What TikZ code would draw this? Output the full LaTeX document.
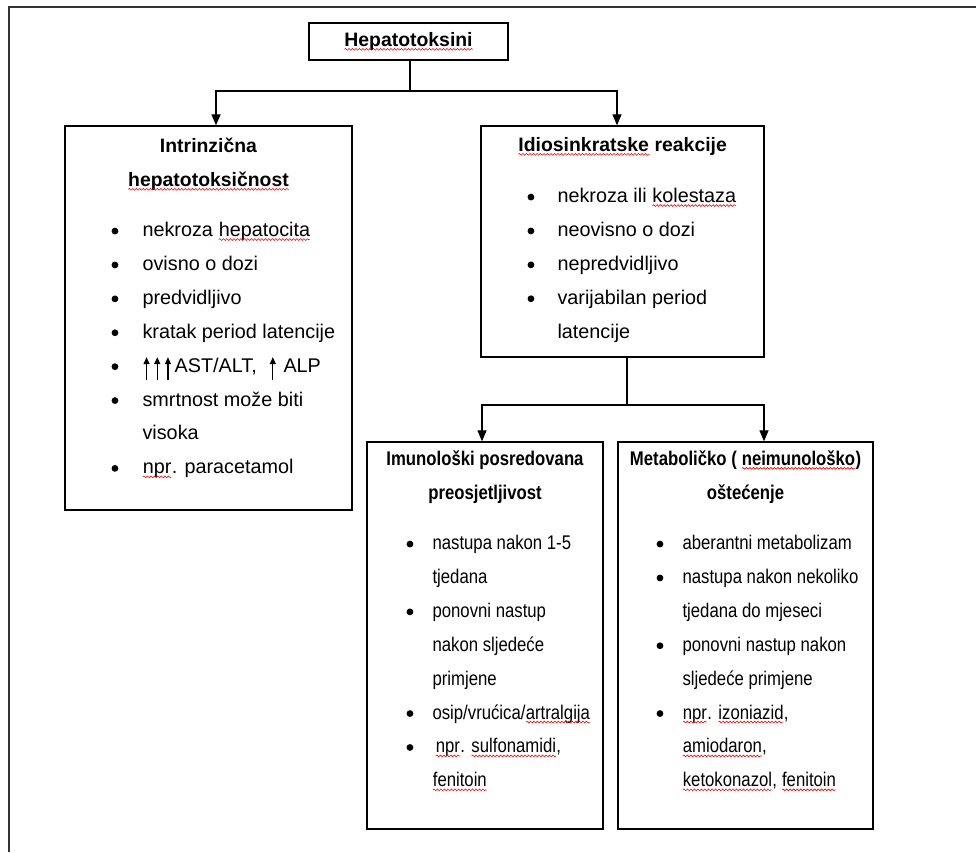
\documentclass[tikz,border=0pt]{standalone}
\usepackage{fontspec}
\setmainfont{Liberation Sans}
\newfontfamily\narrowfont[FakeStretch=0.845]{Liberation Sans}
\usetikzlibrary{arrows.meta,positioning,decorations.pathmorphing}

\newlength{\bulw}
\newcommand{\sq}[1]{\tikz[baseline=(sqw.base)]{\node[inner sep=0pt,outer sep=0pt,anchor=base] (sqw) at (0,0) {#1};
    \draw[red,line width=0.6pt,decorate,decoration={snake,amplitude=0.9pt,segment length=3.5pt}]
    ([yshift=-3pt]sqw.base west) -- ([yshift=-3pt]sqw.base east);}}
\newcommand{\bul}{\makebox[\bulw][l]{\tikz[baseline=0pt]\fill (0pt,5.5pt) circle (3.4pt);}}
\newcommand{\ind}{\hspace*{\bulw}}
\newcommand{\fst}{\rule{0pt}{20pt}}
\newcommand{\up}{\makebox[10.7pt][l]{\hspace{1pt}\tikz[baseline=0pt]\draw[line width=1.3pt,
    -{Triangle[length=7pt,width=6pt]}] (0pt,-8pt) -- (0pt,15pt);}}

\begin{document}
\begin{tikzpicture}[x=1pt,y=-1pt,
    box/.style={draw,line width=1.3pt,inner sep=0pt},
    head/.style={font=\fontsize{19.4}{34}\selectfont\bfseries,inner sep=0pt},
    nhead/.style={font=\narrowfont\fontsize{19.8}{34}\selectfont\bfseries,inner sep=0pt},
    list/.style={font=\fontsize{19.8}{33.9}\selectfont,align=left,inner sep=0pt,
                 execute at begin node={\global\bulw=#1\relax}},
    nlist/.style={list=#1,font=\narrowfont\fontsize{19.8}{33.9}\selectfont},
    wire/.style={line width=1.2pt},
    arr/.style={line width=1.2pt,-{Triangle[length=11pt,width=9pt]}},
    elbow/.style={to path={-| (\tikztotarget)}}]
    \useasboundingbox (0,0) rectangle (976,852);
    \draw[line width=1.4pt,black!80] (9,852) -- (9,7) -- (976,7);

    % boxes
    \node[box,minimum width=199,minimum height=37] (b_0) at (408.5,41.5) {};
    \node[box,minimum width=287,minimum height=384] (b_1) at (208.5,318) {};
    \node[box,minimum width=283,minimum height=231] (b_2) at (622.5,241.5) {};
    \node[box,minimum width=236,minimum height=387] (b_3) at (485,635.5) {};
    \node[box,minimum width=255,minimum height=387] (b_4) at (745.5,635.5) {};

    % titles
    \node[head,below=24pt of b_0.north,anchor=base] (t_0) {\sq{Hepatotoksini}};
    \node[head,below=27pt of b_1.north,anchor=base] (t_1) {Intrinzična};
    \node[head,below=34pt of t_1.base,anchor=base] (t_1b) {\sq{hepatotoksičnost}};
    \node[head,below=26pt of b_2.north,anchor=base] (t_2) {\sq{Idiosinkratske} reakcije};
    \node[nhead,below=24pt of b_3.north,anchor=base] (t_3) {Imunološki posredovana};
    \node[nhead,below=34pt of t_3.base,anchor=base] (t_3b) {preosjetljivost};
    \node[nhead,below=24pt of b_4.north,anchor=base] (t_4) {Metaboličko ( \sq{neimunološko})};
    \node[nhead,below=34pt of t_4.base,anchor=base] (t_4b) {oštećenje};

    % lists
    \node[list=31pt,below right=91pt and 47pt of b_1.north west] (l_1) {%
        \fst\bul nekroza \sq{hepatocita}\\
        \bul ovisno o dozi\\
        \bul predvidljivo\\
        \bul kratak period latencije\\
        \bul \up\up\up AST/ALT,\hspace{12pt}\up\hspace{4pt}ALP\\
        \bul smrtnost može biti\\
        \ind visoka\\
        \bul \sq{npr}. paracetamol};
    \node[list=30pt,below right=57pt and 47pt of b_2.north west] (l_2) {%
        \fst\bul nekroza ili \sq{kolestaza}\\
        \bul neovisno o dozi\\
        \bul nepredvidljivo\\
        \bul varijabilan period\\
        \ind latencije};
    \node[nlist=26pt,below right=88pt and 40pt of b_3.north west] (l_3) {%
        \fst\bul nastupa nakon 1-5\\
        \ind tjedana\\
        \bul ponovni nastup\\
        \ind nakon sljedeće\\
        \ind primjene\\
        \bul osip/vrućica/\sq{artralgija}\\
        \bul\hspace{3pt}\sq{npr}. \sq{sulfonamidi},\\
        \ind\sq{fenitoin}};
    \node[nlist=26pt,below right=88pt and 39pt of b_4.north west] (l_4) {%
        \fst\bul aberantni metabolizam\\
        \bul nastupa nakon nekoliko\\
        \ind tjedana do mjeseci\\
        \bul ponovni nastup nakon\\
        \ind sljedeće primjene\\
        \bul \sq{npr}. \sq{izoniazid},\\
        \ind\sq{amiodaron},\\
        \ind\sq{ketokonazol}, \sq{fenitoin}};

    % connectors
    \coordinate (c_1) at (410,91);
    \coordinate (c_2) at (627,405);
    \draw[wire] (b_0.south -| c_1) -- (c_1);
    \path[arr] (c_1) edge[elbow] ([xshift=7.5pt]b_1.north)
               (c_1) edge[elbow] ([xshift=-5.5pt]b_2.north);
    \draw[wire] (b_2.south -| c_2) -- (c_2);
    \path[arr] (c_2) edge[elbow] ([xshift=-3pt]b_3.north)
               (c_2) edge[elbow] ([xshift=18.5pt]b_4.north);
\end{tikzpicture}
\end{document}
